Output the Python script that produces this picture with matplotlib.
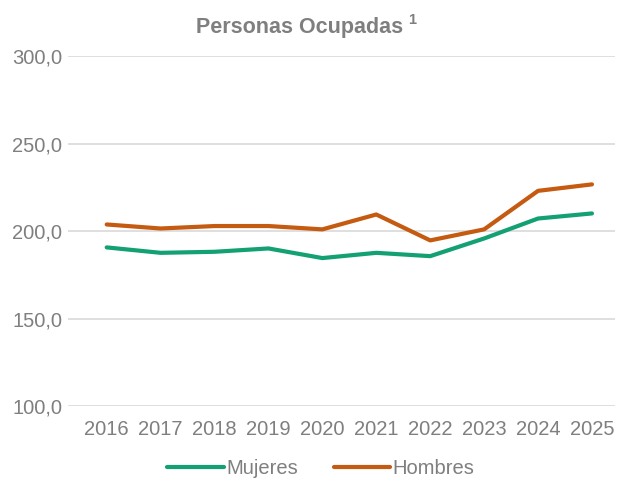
import matplotlib.pyplot as plt
from matplotlib.ticker import FuncFormatter

plt.rcParams['font.family'] = ['Liberation Sans', 'DejaVu Sans']

years = ['2016', '2017', '2018', '2019', '2020', '2021', '2022', '2023', '2024', '2025']
mujeres = [190.7, 187.6, 188.2, 190.1, 184.6, 187.6, 185.7, 195.8, 207.2, 210.1]
hombres = [203.8, 201.5, 202.9, 202.9, 201.0, 209.5, 194.7, 201.0, 223.0, 226.7]

gray = '#7f7f7f'
green = '#13a072'
orange = '#c55a11'

fig = plt.figure(figsize=(6.17, 4.79), dpi=100)
ax = fig.add_axes([0.11, 0.152, 0.887, 0.731])

x = range(len(years))
ax.plot(x, mujeres, color=green, lw=3, label='Mujeres', solid_capstyle='round')
ax.plot(x, hombres, color=orange, lw=3, label='Hombres', solid_capstyle='round')

ax.set_ylim(100, 300)
ax.set_yticks([100, 150, 200, 250, 300])
ax.yaxis.set_major_formatter(FuncFormatter(lambda v, p: f'{v:.1f}'.replace('.', ',')))
ax.set_xlim(-0.72, 9.43)
ax.set_xticks(list(x))
ax.set_xticklabels(years)
ax.grid(axis='y', color='#d9d9d9', lw=1.2)
ax.set_axisbelow(True)
for s in ax.spines.values():
    s.set_visible(False)
ax.tick_params(length=0, labelsize=14.5, labelcolor=gray)
ax.tick_params(axis='y', pad=4)
ax.tick_params(axis='x', pad=10)

# title with a raised footnote mark
fig.text(0.653, 0.943, 'Personas Ocupadas', ha='right', va='center',
         fontsize=15.5, fontweight='bold', color=gray)
fig.text(0.662, 0.958, '1', ha='left', va='center',
         fontsize=10.5, fontweight='bold', color=gray)

leg = fig.legend(loc='center', bbox_to_anchor=(0.52, 0.022), ncol=2, frameon=False,
                 fontsize=14.5, handlelength=2.8, handletextpad=0.1, columnspacing=1.8)
for t in leg.get_texts():
    t.set_color(gray)

fig.savefig('out.png', dpi=100)
